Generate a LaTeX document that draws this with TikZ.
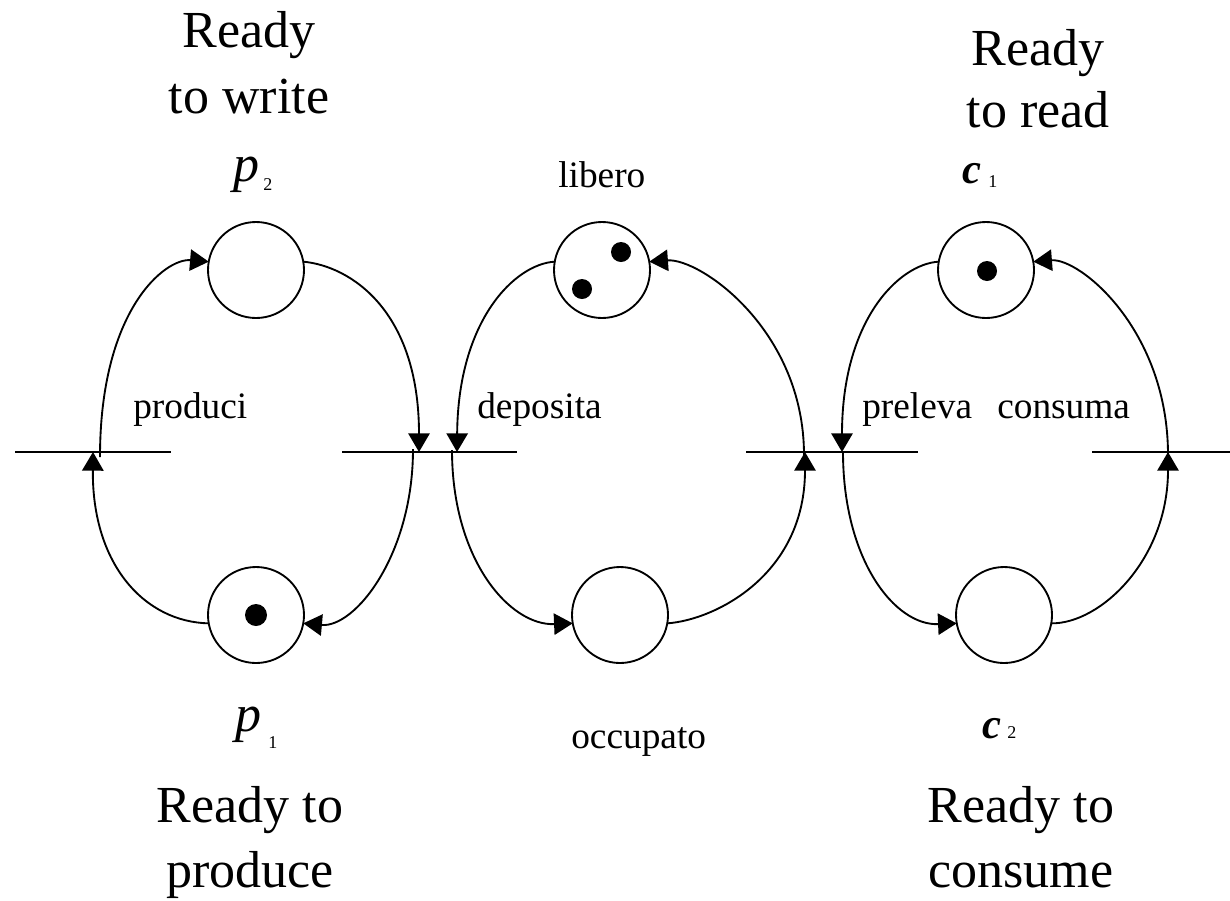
\documentclass[tikz,border=0pt]{standalone}
\usepackage{fontspec}
\setmainfont{Liberation Serif}
\usetikzlibrary{arrows.meta}
\begin{document}
\begin{tikzpicture}[x=0.75pt,y=-0.75pt,
  place/.style={circle,draw,line width=1.4pt,minimum size=72pt,inner sep=0pt,outer sep=0pt},
  token/.style={circle,fill=black,minimum size=15pt,inner sep=0pt},
  arc/.style={line width=1.4pt,-{Triangle[length=14pt,width=16pt]}},
  bar/.style={line width=1.4pt},
  big/.style={font=\fontsize{39}{49.5}\selectfont,align=center,anchor=base,inner sep=0pt},
  lab/.style={font=\fontsize{28}{30}\selectfont,anchor=base west,inner sep=0pt},
  pl/.style={font=\fontsize{39}{40}\selectfont\itshape,anchor=base west,inner sep=0pt},
  cl/.style={font=\fontsize{32}{34}\selectfont\bfseries\itshape,anchor=base west,inner sep=0pt},
  sub/.style={font=\fontsize{13.5}{14}\selectfont,anchor=base west,inner sep=0pt}]
\useasboundingbox (0,0) rectangle (1230,900);

% places
\node[place] (p2) at (256,270) {};
\node[place] (p1) at (256,615) {};
\node[place] (lib) at (602,270) {};
\node[place] (occ) at (620,615) {};
\node[place] (c1) at (986,270) {};
\node[place] (c2) at (1004,615) {};

% tokens
\node[token,minimum size=16.5pt] (tp1) at (256,615) {};
\node[token] (tl1) at (621,252) {};
\node[token] (tl2) at (582,289) {};
\node[token] (tc1) at (987,271) {};

% transitions
\coordinate (T1l) at (15,452);   \coordinate (T1r) at (171,452);
\coordinate (T2l) at (342,452);  \coordinate (T2r) at (517,452);
\coordinate (T3l) at (746,452);  \coordinate (T3r) at (918,452);
\coordinate (T4l) at (1092,452); \coordinate (T4r) at (1230,452);
\draw[bar] (T1l) -- (T1r);
\draw[bar] (T2l) -- (T2r);
\draw[bar] (T3l) -- (T3r);
\draw[bar] (T4l) -- (T4r);

% arc end points on transitions
\coordinate (a1) at (100,457);
\coordinate (a2) at (93,452);
\coordinate (b1) at (419,452);
\coordinate (b2) at (413,449);
\coordinate (b3) at (457,452);
\coordinate (b4) at (452,450);
\coordinate (d1) at (805,452);
\coordinate (d2) at (804,455);
\coordinate (d3) at (842,452);
\coordinate (d4) at (843,452);
\coordinate (e1) at (1168,452);
\coordinate (e2) at (1168,455);

% producer loop
\draw[arc] (a1) .. controls (100,310) and (165,258) .. (p2.170);
\draw[arc] (p2.10) .. controls (350,266) and (419,310) .. (b1);
\draw[arc] (b2) .. controls (413,555) and (355,628) .. (p1.-10);
\draw[arc] (p1.190) .. controls (145,622) and (92,565) .. (a2);

% buffer loop
\draw[arc] (lib.170) .. controls (515,264) and (458,320) .. (b3);
\draw[arc] (b4) .. controls (452,560) and (510,626) .. (occ.190);
\draw[arc] (occ.-10) .. controls (715,620) and (805,575) .. (d1);
\draw[arc] (d2) .. controls (804,330) and (700,258) .. (lib.10);

% consumer loop
\draw[arc] (c1.170) .. controls (899,264) and (842,320) .. (d3);
\draw[arc] (d4) .. controls (843,560) and (895,626) .. (c2.190);
\draw[arc] (c2.-10) .. controls (1100,624) and (1168,560) .. (e1);
\draw[arc] (e2) .. controls (1168,330) and (1080,258) .. (c1.10);

% big labels (anchor = baseline of the last line)
\node[big] (rw) at (249,113) {Ready\\to write};
\node[big,font=\fontsize{39}{46.5}\selectfont] (rr) at (1038,127) {Ready\\to read};
\node[big,font=\fontsize{39}{48.75}\selectfont] (rp) at (250,887) {Ready to\\produce};
\node[big,font=\fontsize{39}{48.75}\selectfont] (rc) at (1021,887) {Ready to\\consume};

% transition and place labels
\node[lab] (lprod) at (133,418) {produci};
\node[lab] (ldep) at (477,418) {deposita};
\node[lab] (lpre) at (862,418) {preleva};
\node[lab] (lcon) at (997,418) {consuma};
\node[lab] (llib) at (558,187) {libero};
\node[lab] (locc) at (571,748) {occupato};

% place names
\node[pl] (np2) at (233,181) {p};
\node[sub] (np2s) at (263,190) {2};
\node[pl] (np1) at (235,731) {p};
\node[sub] (np1s) at (268,748) {1};
\node[cl] (nc1) at (962,183) {c};
\node[sub] (nc1s) at (988,187) {1};
\node[cl] (nc2) at (982,738) {c};
\node[sub] (nc2s) at (1007,738) {2};
\end{tikzpicture}
\end{document}
